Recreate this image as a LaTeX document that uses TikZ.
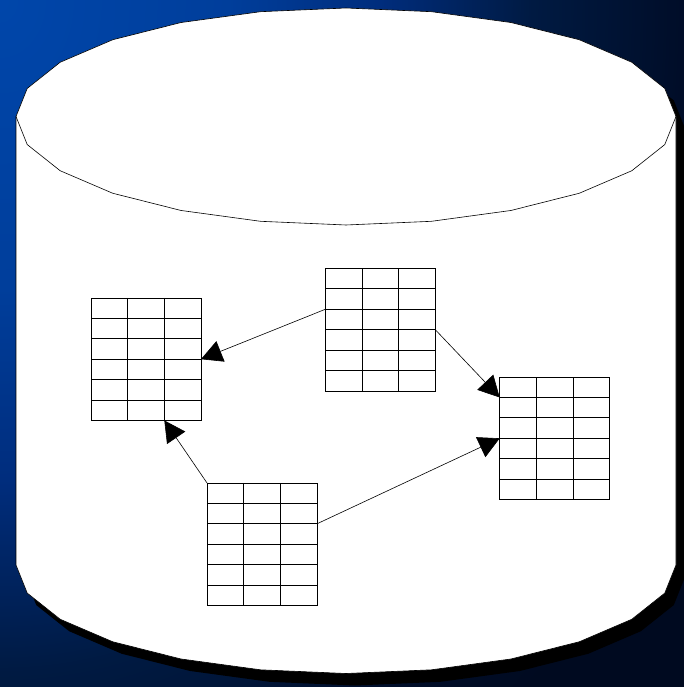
\documentclass[tikz,border=0pt]{standalone}
\usetikzlibrary{calc,arrows.meta}
\definecolor{bgEnd}{RGB}{0,10,32}
\pgfdeclareradialshading{bgshade}{\pgfpoint{0bp}{0bp}}{rgb(0bp)=(0,0.275,0.667); rgb(7.5bp)=(0,0.243,0.608); rgb(12.5bp)=(0,0.176,0.49); rgb(17.5bp)=(0,0.102,0.259); rgb(22.5bp)=(0,0.051,0.157); rgb(25bp)=(0,0.039,0.125); rgb(50bp)=(0,0.039,0.125)}
\tikzset{
  tbl/.style={draw=black, fill=white, line width=0.8pt, minimum width=110pt, minimum height=122.5pt, inner sep=0pt, outer sep=0pt},
  gridline/.style={draw=black, line width=0.8pt},
  arr/.style={draw=black, line width=0.6pt, -{Triangle[length=21pt,width=22pt]}},
  outline/.style={draw=black, line width=0.6pt}
}
\begin{document}
\begin{tikzpicture}[x=1pt,y=-1pt]
\useasboundingbox (0,0) rectangle (684,687);
\clip (0,0) rectangle (684,687);
\fill[bgEnd] (0,0) rectangle (684,687);
\shade[shading=bgshade] (0,0) ellipse [x radius=760, y radius=960];
% shadow
\fill[black, shift={(9,12)}]
  plot[samples=13,domain=0:180] ({346+330*cos(\x)},{116.5-108.5*sin(\x)})
  -- plot[samples=13,domain=180:360] ({346+330*cos(\x)},{565-108.5*sin(\x)}) -- cycle;
% body
\path[fill=white, outline]
  plot[samples=13,domain=0:180] ({346+330*cos(\x)},{116.5-108.5*sin(\x)})
  -- plot[samples=13,domain=180:360] ({346+330*cos(\x)},{565-108.5*sin(\x)}) -- cycle;
% front rim of top
\draw[outline] plot[samples=13,domain=180:360] ({346+330*cos(\x)},{116.5-108.5*sin(\x)});
% tables
\node[tbl] (t1) at (146,359.2) {};
\node[tbl] (t2) at (380.3,329.7) {};
\node[tbl] (t3) at (554.7,438.3) {};
\node[tbl] (t4) at (262,544.2) {};
\foreach \t in {t1,t2,t3,t4} {
  \foreach \i in {1,...,5}
    \draw[gridline] ($(\t.north west)!\i/6!(\t.south west)$) -- ($(\t.north east)!\i/6!(\t.south east)$);
  \foreach \j in {1,2}
    \draw[gridline] ($(\t.north west)!\j/3!(\t.north east)$) -- ($(\t.south west)!\j/3!(\t.south east)$);
}
% arrows
\draw[arr] ($(t2.north west)!2/6!(t2.south west)$) -- ($(t1.north east)!3/6!(t1.south east)$);
\draw[arr] ($(t2.north east)!3/6!(t2.south east)$) -- ($(t3.north west)!1/6!(t3.south west)$);
\draw[arr] (t4.north west) -- ($(t1.south west)!2/3!(t1.south east)$);
\draw[arr] ($(t4.north east)!2/6!(t4.south east)$) -- ($(t3.north west)!3/6!(t3.south west)$);
\end{tikzpicture}
\end{document}
